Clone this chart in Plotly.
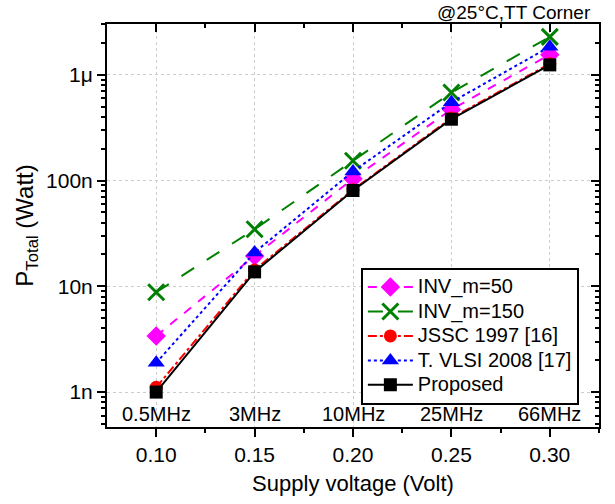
import plotly.graph_objects as go

# Supply voltage sweep and matching operating frequencies
voltage = [0.10, 0.15, 0.20, 0.25, 0.30]
freq_labels = ["0.5MHz", "3MHz", "10MHz", "25MHz", "66MHz"]

# Total power (W) for each design
inv_m50 = [3.4e-9, 19.4e-9, 104e-9, 470e-9, 1.55e-6]
inv_m150 = [8.8e-9, 34.6e-9, 154e-9, 679e-9, 2.28e-6]
jssc1997 = [1.11e-9, 14.3e-9, 82e-9, 390e-9, 1.27e-6]
tvlsi2008 = [1.89e-9, 20.9e-9, 122e-9, 550e-9, 1.84e-6]
proposed = [1.0e-9, 13.7e-9, 80.5e-9, 380e-9, 1.24e-6]

y_tickvals = [1e-9, 1e-8, 1e-7, 1e-6]
y_ticktext = ["1n", "10n", "100n", "1\u03bc"]
x_minor = [0.125, 0.175, 0.225, 0.275, 0.325]

X_RANGE = [0.075, 0.325]
Y_RANGE = [-9.33, -5.52]

series = [
    ("INV_m=50", inv_m50, "#ff00ff", "dash", "diamond", 15, 0),
    ("INV_m=150", inv_m150, "#008000", "longdash", "x-thin-open", 16, 3),
    ("JSSC 1997 [16]", jssc1997, "#ff0000", "dashdot", "circle", 13, 0),
    ("T. VLSI 2008 [17]", tvlsi2008, "#0000ff", "dot", "triangle-up", 15, 0),
    ("Proposed", proposed, "#000000", "solid", "square", 13, 0),
]

fig = go.Figure()
for name, vals, color, dash, symbol, msize, mline in series:
    fig.add_trace(go.Scatter(
        x=voltage, y=vals, mode="lines+markers",
        # larger text inside a compact legend row
        name=f'<span style="font-size:20px">{name}</span>',
        line=dict(color=color, dash=dash, width=2),
        marker=dict(symbol=symbol, size=msize, color=color,
                    line=dict(color=color, width=mline)),
    ))

# empty trace so the top/right frame axes (inward ticks) get drawn
fig.add_trace(go.Scatter(x=[None], y=[None], xaxis="x2", yaxis="y2",
                         showlegend=False, hoverinfo="skip"))

font_family = "Liberation Sans, Arial, sans-serif"

for v, lab in zip(voltage, freq_labels):
    fig.add_annotation(x=v, y=0.032, xref="x", yref="paper", text=lab,
                       showarrow=False, font=dict(size=20, color="black"),
                       yanchor="middle")

fig.add_annotation(x=0.988, y=1.0, xref="paper", yref="paper",
                   text="@25\u00b0C,TT Corner", showarrow=False,
                   xanchor="right", yanchor="bottom", yshift=-1,
                   font=dict(size=19, color="black"))

axis_common = dict(tickcolor="black", tickwidth=2, ticklen=8,
                   showline=True, linecolor="black", linewidth=2,
                   zeroline=False)

fig.update_layout(
    width=615, height=504,
    margin=dict(l=107, r=16, t=24, b=75),
    paper_bgcolor="white", plot_bgcolor="white",
    font=dict(family=font_family, color="black", size=19),
    legend=dict(x=0.516, y=0.395, xanchor="left", yanchor="top",
                bordercolor="black", borderwidth=2, bgcolor="white",
                font=dict(size=16.5), tracegroupgap=0, itemwidth=45),
    showlegend=True,
    xaxis=dict(
        range=X_RANGE, tickvals=voltage, ticktext=[f"{v:.2f}" for v in voltage],
        ticks="outside", showgrid=True, gridcolor="#cccccc", griddash="dot",
        gridwidth=1,
        minor=dict(tickvals=x_minor, ticks="outside", ticklen=4, tickwidth=2,
                   tickcolor="black", showgrid=False),
        title=dict(text="Supply voltage (Volt)", font=dict(size=22), standoff=10),
        tickfont=dict(size=21), **axis_common,
    ),
    yaxis=dict(
        type="log", range=Y_RANGE, tickvals=y_tickvals, ticktext=y_ticktext,
        ticks="outside", showgrid=True, gridcolor="#cccccc", griddash="dot",
        gridwidth=1,
        minor=dict(ticks="outside", ticklen=4, tickwidth=1.5, tickcolor="black",
                   showgrid=False, dtick="D1"),
        title=dict(text="P<sub>Total</sub> (Watt)", font=dict(size=24), standoff=6),
        tickfont=dict(size=21), **axis_common,
    ),
    xaxis2=dict(
        overlaying="x", side="top", range=X_RANGE, tickvals=voltage,
        ticks="inside", showticklabels=False, showgrid=False,
        minor=dict(tickvals=x_minor, ticks="inside", ticklen=4, tickwidth=2,
                   tickcolor="black", showgrid=False),
        **axis_common,
    ),
    yaxis2=dict(
        overlaying="y", side="right", type="log", range=Y_RANGE,
        tickvals=y_tickvals, ticks="inside", showticklabels=False, showgrid=False,
        minor=dict(ticks="inside", ticklen=4, tickwidth=1.5, tickcolor="black",
                   showgrid=False, dtick="D1"),
        **axis_common,
    ),
)

fig.write_html("out.html")
